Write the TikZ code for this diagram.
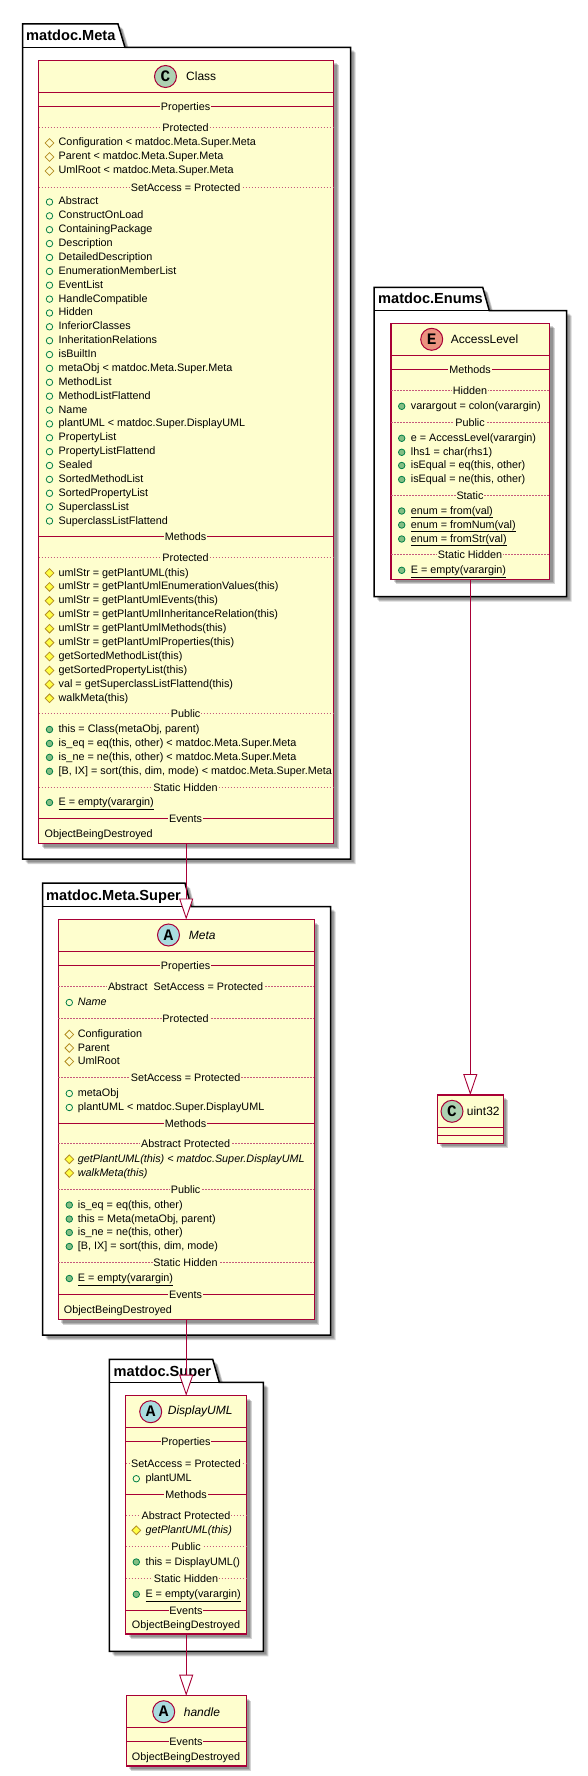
\documentclass[tikz,border=0pt]{standalone}
\usepackage{fontspec}
\setmainfont{Liberation Sans}
\newfontfamily\spotfont{Liberation Mono}
\usetikzlibrary{arrows.meta,shadows,shapes.geometric}
\definecolor{umlborder}{HTML}{A80036}
\definecolor{umlfill}{HTML}{FEFECE}
\definecolor{spotclass}{HTML}{ADD1B2}
\definecolor{spotabstract}{HTML}{A9DCDF}
\definecolor{spotenum}{HTML}{EB937F}
\definecolor{publine}{HTML}{038048}
\definecolor{pubfill}{HTML}{84BE84}
\definecolor{protline}{HTML}{B38D22}
\definecolor{protfill}{HTML}{FFFF44}
\tikzset{
  softshadow/.style={
    drop shadow={shadow xshift=3pt,shadow yshift=-3pt,fill=black,opacity=.17},
    drop shadow={shadow xshift=4pt,shadow yshift=-4pt,fill=black,opacity=.17},
    drop shadow={shadow xshift=5pt,shadow yshift=-5pt,fill=black,opacity=.17}},
  pkg/.style={draw=black,line width=1.5pt,fill=white,line join=miter,softshadow},
  pkgline/.style={draw=black,line width=1.5pt},
  pkgtitle/.style={anchor=base west,inner sep=0pt,font=\fontsize{14.6}{16}\selectfont\bfseries},
  classbox/.style={draw=umlborder,line width=1.4pt,fill=umlfill,inner sep=0pt,outer sep=0pt,softshadow},
  solidsep/.style={draw=umlborder,line width=1pt},
  dashsep/.style={draw=umlborder!65,line width=.8pt,dash pattern=on 1.5pt off 1.5pt},
  seplabel/.style={anchor=base,fill=umlfill,inner xsep=.8pt,inner ysep=0pt,font=\fontsize{10.8}{13}\selectfont},
  spot/.style={circle,draw=umlborder,line width=1pt,minimum size=22pt,inner sep=0pt,font=\spotfont\bfseries\fontsize{16}{16}\selectfont},
  boxtitle/.style={anchor=west,inner sep=0pt,font=\fontsize{12}{14}\selectfont},
  rowtext/.style={anchor=base west,inner sep=0pt,font=\fontsize{10.8}{13}\selectfont},
  pubprop/.style={circle,draw=publine,line width=.8pt,minimum size=6.5pt,inner sep=0pt},
  pubmeth/.style={pubprop,fill=pubfill},
  protprop/.style={diamond,aspect=1,draw=protline,line width=.8pt,minimum size=9pt,inner sep=0pt},
  protmeth/.style={protprop,fill=protfill},
  inherits/.style={draw=umlborder,line width=.9pt,-{Triangle[open,length=21pt,width=14pt,fill=white]}}
}
\begin{document}
\begin{tikzpicture}[x=1pt,y=-1pt]
  \useasboundingbox (0,0) rectangle (587,1776);

  % packages
  \path[pkg] (22.5,24) -- (118,24) -- (125,47.5) -- (350.5,47.5) -- (350.5,859) -- (22.5,859) -- cycle;
  \draw[pkgline] (22.5,47.5) -- (125,47.5);
  \node[pkgtitle] (PkgMeta) at (26,41) {matdoc.Meta};
  \path[pkg] (42.5,883) -- (185,883) -- (191,906.5) -- (330.5,906.5) -- (330.5,1335) -- (42.5,1335) -- cycle;
  \draw[pkgline] (42.5,906.5) -- (191,906.5);
  \node[pkgtitle] (PkgMetaSuper) at (46,900) {matdoc.Meta.Super};
  \path[pkg] (374,287.3) -- (482.7,287.3) -- (489.3,310.7) -- (566.7,310.7) -- (566.7,596.7) -- (374,596.7) -- cycle;
  \draw[pkgline] (374,310.7) -- (489.3,310.7);
  \node[pkgtitle] (PkgEnums) at (378,304) {matdoc.Enums};
  \path[pkg] (109.3,1359.3) -- (212.7,1359.3) -- (219.3,1382.3) -- (263.3,1382.3) -- (263.3,1651.3) -- (109.3,1651.3) -- cycle;
  \draw[pkgline] (109.3,1382.3) -- (219.3,1382.3);
  \node[pkgtitle] (PkgSuper) at (113.5,1376) {matdoc.Super};

  % class Class
  \node[classbox,minimum width=295pt,minimum height=783pt] (Class) at (186.2,452) {};
  \node[spot,fill=spotclass] (ClassSpot) at (165.5,76.5) {C};
  \node[boxtitle] (ClassTitle) at (186,76.5) {Class};
  \draw[solidsep] (Class.west |- 0,92.5) -- (Class.east |- 0,92.5);
  \foreach \kind/\y/\txt [count=\i] in {
    solidsep/106.5/Properties, dashsep/127.5/Protected, dashsep/187.5/SetAccess = Protected,
    solidsep/536.7/Methods, dashsep/557.5/Protected, dashsep/713.5/Public,
    dashsep/787.5/Static Hidden, solidsep/818.5/Events}{
    \draw[\kind] (Class.west |- 0,\y) -- (Class.east |- 0,\y);
    \node[seplabel] (ClassSep\i) at (185.6,\y+4.2) {\txt};
  }
  \foreach \kind/\y/\txt [count=\i] in {
    protprop/142/Configuration < matdoc.Meta.Super.Meta,
    protprop/156/Parent < matdoc.Meta.Super.Meta,
    protprop/170/UmlRoot < matdoc.Meta.Super.Meta,
    pubprop/201/Abstract,
    pubprop/214.9/ConstructOnLoad,
    pubprop/228.7/ContainingPackage,
    pubprop/242.6/Description,
    pubprop/256.5/DetailedDescription,
    pubprop/270.4/EnumerationMemberList,
    pubprop/284.2/EventList,
    pubprop/298.1/HandleCompatible,
    pubprop/312/Hidden,
    pubprop/325.8/InferiorClasses,
    pubprop/339.7/InheritationRelations,
    pubprop/353.6/isBuiltIn,
    pubprop/367.4/metaObj < matdoc.Meta.Super.Meta,
    pubprop/381.3/MethodList,
    pubprop/395.2/MethodListFlattend,
    pubprop/409.1/Name,
    pubprop/422.9/plantUML < matdoc.Super.DisplayUML,
    pubprop/436.8/PropertyList,
    pubprop/450.7/PropertyListFlattend,
    pubprop/464.5/Sealed,
    pubprop/478.4/SortedMethodList,
    pubprop/492.3/SortedPropertyList,
    pubprop/506.1/SuperclassList,
    pubprop/520/SuperclassListFlattend,
    protmeth/572/umlStr = getPlantUML(this),
    protmeth/585.9/umlStr = getPlantUmlEnumerationValues(this),
    protmeth/599.8/umlStr = getPlantUmlEvents(this),
    protmeth/613.8/umlStr = getPlantUmlInheritanceRelation(this),
    protmeth/627.7/umlStr = getPlantUmlMethods(this),
    protmeth/641.6/umlStr = getPlantUmlProperties(this),
    protmeth/655.5/getSortedMethodList(this),
    protmeth/669.5/getSortedPropertyList(this),
    protmeth/683.4/val = getSuperclassListFlattend(this),
    protmeth/697.3/walkMeta(this),
    pubmeth/728.5/this = Class(metaObj{,} parent),
    pubmeth/742.5/is\_eq = eq(this{,} other) < matdoc.Meta.Super.Meta,
    pubmeth/756.4/is\_ne = ne(this{,} other) < matdoc.Meta.Super.Meta,
    pubmeth/770.3/{[B, IX] = sort(this, dim, mode) < matdoc.Meta.Super.Meta},
    pubmeth/801.5/\underline{E = empty(varargin)}}{
    \node[\kind] (ClassIcon\i) at (49.5,\y+1) {};
    \node[rowtext] (ClassRow\i) at (58.5,\y+4) {\txt};
  }
  \node[rowtext] (ClassEvent) at (44.5,837) {ObjectBeingDestroyed};

  % class Meta
  \node[classbox,minimum width=256pt,minimum height=400pt] (Meta) at (186.2,1119.5) {};
  \node[spot,fill=spotabstract] (MetaSpot) at (168.5,935) {A};
  \node[boxtitle] (MetaTitle) at (188.7,935) {\textit{Meta}};
  \draw[solidsep] (Meta.west |- 0,951.5) -- (Meta.east |- 0,951.5);
  \foreach \kind/\y/\txt [count=\i] in {
    solidsep/965.5/Properties, dashsep/986.5/Abstract\ \ SetAccess = Protected, dashsep/1018.5/Protected,
    dashsep/1077.5/SetAccess = Protected, solidsep/1123.5/Methods, dashsep/1143.5/Abstract Protected,
    dashsep/1189.3/Public, dashsep/1262.3/Static Hidden, solidsep/1294.3/Events}{
    \draw[\kind] (Meta.west |- 0,\y) -- (Meta.east |- 0,\y);
    \node[seplabel] (MetaSep\i) at (185.6,\y+4.2) {\txt};
  }
  \foreach \kind/\y/\txt [count=\i] in {
    pubprop/1001.5/\textit{Name},
    protprop/1033.5/Configuration,
    protprop/1047/Parent,
    protprop/1060.5/UmlRoot,
    pubprop/1092.5/metaObj,
    pubprop/1106.5/plantUML < matdoc.Super.DisplayUML,
    protmeth/1158.3/\textit{getPlantUML(this) < matdoc.Super.DisplayUML},
    protmeth/1172/\textit{walkMeta(this)},
    pubmeth/1204/is\_eq = eq(this{,} other),
    pubmeth/1218/this = Meta(metaObj{,} parent),
    pubmeth/1231.5/is\_ne = ne(this{,} other),
    pubmeth/1245.5/{[B, IX] = sort(this, dim, mode)},
    pubmeth/1277.5/\underline{E = empty(varargin)}}{
    \node[\kind] (MetaIcon\i) at (69.3,\y+1) {};
    \node[rowtext] (MetaRow\i) at (77.7,\y+4) {\txt};
  }
  \node[rowtext] (MetaEvent) at (63.7,1313) {ObjectBeingDestroyed};

  % enum AccessLevel
  \node[classbox,minimum width=158.6pt,minimum height=256pt] (AccessLevel) at (470.3,451.3) {};
  \node[spot,fill=spotenum] (AccessLevelSpot) at (431.7,339.3) {E};
  \node[boxtitle] (AccessLevelTitle) at (450.7,339.3) {AccessLevel};
  \draw[solidsep] (AccessLevel.west |- 0,355.7) -- (AccessLevel.east |- 0,355.7);
  \foreach \kind/\y/\txt [count=\i] in {
    solidsep/369.3/Methods, dashsep/390.3/Hidden, dashsep/422.3/Public,
    dashsep/495.3/Static, dashsep/554.3/Static Hidden}{
    \draw[\kind] (AccessLevel.west |- 0,\y) -- (AccessLevel.east |- 0,\y);
    \node[seplabel] (AccessLevelSep\i) at (470,\y+4.2) {\txt};
  }
  \foreach \kind/\y/\txt [count=\i] in {
    pubmeth/405.3/varargout = colon(varargin),
    pubmeth/437.3/e = AccessLevel(varargin),
    pubmeth/451.3/lhs1 = char(rhs1),
    pubmeth/464.5/isEqual = eq(this{,} other),
    pubmeth/478.5/isEqual = ne(this{,} other),
    pubmeth/510/\underline{enum = from(val)},
    pubmeth/524/\underline{enum = fromNum(val)},
    pubmeth/538/\underline{enum = fromStr(val)},
    pubmeth/569.3/\underline{E = empty(varargin)}}{
    \node[\kind] (AccessLevelIcon\i) at (401.7,\y+1) {};
    \node[rowtext] (AccessLevelRow\i) at (410.7,\y+4) {\txt};
  }

  % class uint32
  \node[classbox,minimum width=66pt,minimum height=48.3pt] (Uint) at (470.3,1119.2) {};
  \node[spot,fill=spotclass] (UintSpot) at (452,1111.3) {C};
  \node[boxtitle] (UintTitle) at (466.7,1111.3) {uint32};
  \draw[solidsep] (Uint.west |- 0,1127.3) -- (Uint.east |- 0,1127.3);
  \draw[solidsep] (Uint.west |- 0,1135.3) -- (Uint.east |- 0,1135.3);

  % class DisplayUML
  \node[classbox,minimum width=121pt,minimum height=238.3pt] (DisplayUML) at (186.2,1514.85) {};
  \node[spot,fill=spotabstract] (DisplayUMLSpot) at (150.7,1411.7) {A};
  \node[boxtitle] (DisplayUMLTitle) at (167.7,1411.7) {\textit{DisplayUML}};
  \draw[solidsep] (DisplayUML.west |- 0,1427.3) -- (DisplayUML.east |- 0,1427.3);
  \foreach \kind/\y/\txt [count=\i] in {
    solidsep/1441.3/Properties, dashsep/1463/SetAccess = Protected, solidsep/1494.3/Methods,
    dashsep/1515.3/Abstract Protected, dashsep/1546.7/Public, dashsep/1578/Static Hidden,
    solidsep/1610.3/Events}{
    \draw[\kind] (DisplayUML.west |- 0,\y) -- (DisplayUML.east |- 0,\y);
    \node[seplabel] (DisplayUMLSep\i) at (186,\y+4.2) {\txt};
  }
  \foreach \kind/\y/\txt [count=\i] in {
    pubprop/1477.7/plantUML,
    protmeth/1529.3/\textit{getPlantUML(this)},
    pubmeth/1561/this = DisplayUML(),
    pubmeth/1593.3/\underline{E = empty(varargin)}}{
    \node[\kind] (DisplayUMLIcon\i) at (136.3,\y+1) {};
    \node[rowtext] (DisplayUMLRow\i) at (145.3,\y+4) {\txt};
  }
  \node[rowtext,anchor=base] (DisplayUMLEvent) at (186,1628.3) {ObjectBeingDestroyed};

  % class handle
  \node[classbox,minimum width=120pt,minimum height=70.3pt] (Handle) at (186.2,1730.85) {};
  \node[spot,fill=spotabstract] (HandleSpot) at (163.7,1711.7) {A};
  \node[boxtitle] (HandleTitle) at (183.7,1711.7) {\textit{handle}};
  \draw[solidsep] (Handle.west |- 0,1727.3) -- (Handle.east |- 0,1727.3);
  \draw[solidsep] (Handle.west |- 0,1741.3) -- (Handle.east |- 0,1741.3);
  \node[seplabel] (HandleSep) at (186,1745.5) {Events};
  \node[rowtext,anchor=base] (HandleEvent) at (186,1760) {ObjectBeingDestroyed};

  % inheritance
  \draw[inherits] (Class.south) -- (Meta.north);
  \draw[inherits] (Meta.south) -- (DisplayUML.north);
  \draw[inherits] (DisplayUML.south) -- (Handle.north);
  \draw[inherits] (AccessLevel.south) -- (Uint.north);
\end{tikzpicture}
\end{document}
